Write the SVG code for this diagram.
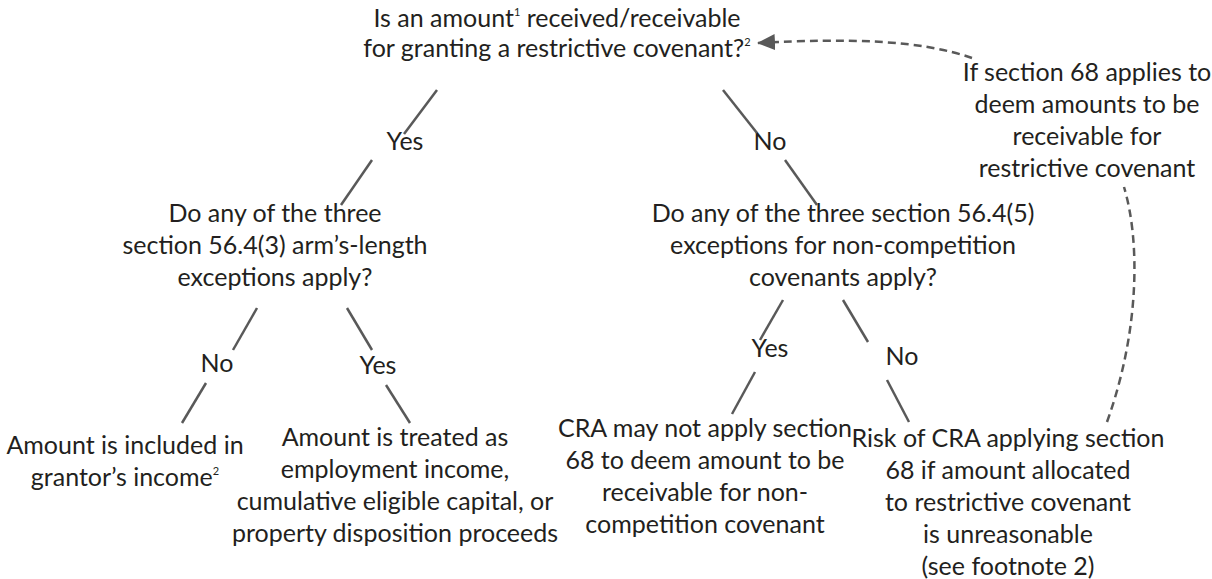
<svg xmlns="http://www.w3.org/2000/svg" width="1212" height="579" viewBox="0 0 1212 579">
<defs>
<style>
text{font-family:"Lato","Liberation Sans",sans-serif;font-size:25px;fill:#231f20;text-anchor:middle}
.sup{font-size:11px}
.ln{stroke:#595959;stroke-width:2.5;fill:none}
.dash{stroke:#595959;stroke-width:2.5;fill:none;stroke-dasharray:8 5}
</style>
<marker id="ah" viewBox="0 0 18 16" refX="17" refY="8" markerWidth="18" markerHeight="16" markerUnits="userSpaceOnUse" orient="auto">
<path d="M0,0 L18,8 L0,16 z" fill="#595959"/>
</marker>
</defs>
<rect width="1212" height="579" fill="#ffffff"/>
<g id="q1">
<text x="557" y="27">Is an amount<tspan class="sup" dy="-11">1</tspan><tspan dy="11"> received/receivable</tspan></text>
<text x="557" y="57">for granting a restrictive covenant?<tspan class="sup" dy="-11">2</tspan></text>
</g>
<g id="note68">
<text x="1087" y="81">If section 68 applies to</text>
<text x="1087" y="113">deem amounts to be</text>
<text x="1087" y="145">receivable for</text>
<text x="1087" y="177">restrictive covenant</text>
</g>
<g id="q2">
<text x="275" y="222">Do any of the three</text>
<text x="275" y="254">section 56.4(3) arm’s-length</text>
<text x="275" y="286">exceptions apply?</text>
</g>
<g id="q3">
<text x="843" y="222">Do any of the three section 56.4(5)</text>
<text x="843" y="254">exceptions for non-competition</text>
<text x="843" y="286">covenants apply?</text>
</g>
<g id="r1">
<text x="125" y="454">Amount is included in</text>
<text x="125" y="486">grantor’s income<tspan class="sup" dy="-11">2</tspan></text>
</g>
<g id="r2">
<text x="395" y="446">Amount is treated as</text>
<text x="395" y="478">employment income,</text>
<text x="395" y="510">cumulative eligible capital, or</text>
<text x="395" y="542">property disposition proceeds</text>
</g>
<g id="r3">
<text x="705" y="437">CRA may not apply section</text>
<text x="705" y="469">68 to deem amount to be</text>
<text x="705" y="501">receivable for non-</text>
<text x="705" y="533">competition covenant</text>
</g>
<g id="r4">
<text x="1008" y="447">Risk of CRA applying section</text>
<text x="1008" y="479">68 if amount allocated</text>
<text x="1008" y="511">to restrictive covenant</text>
<text x="1008" y="543">is unreasonable</text>
<text x="1008" y="575">(see footnote 2)</text>
</g>
<g id="labels">
<text x="405" y="150">Yes</text>
<text x="770" y="150">No</text>
<text x="217" y="372">No</text>
<text x="378" y="374">Yes</text>
<text x="770" y="357">Yes</text>
<text x="902" y="365">No</text>
</g>
<g id="connectors">
<line class="ln" x1="437" y1="90" x2="404" y2="134"/>
<line class="ln" x1="372" y1="160" x2="341" y2="205"/>
<line class="ln" x1="723" y1="90" x2="757" y2="133"/>
<line class="ln" x1="785" y1="160" x2="817" y2="205"/>
<line class="ln" x1="257" y1="308" x2="233" y2="350"/>
<line class="ln" x1="206" y1="383" x2="182" y2="423"/>
<line class="ln" x1="347" y1="308" x2="372" y2="350"/>
<line class="ln" x1="386" y1="385" x2="410" y2="423"/>
<line class="ln" x1="783" y1="300" x2="760" y2="340"/>
<line class="ln" x1="755" y1="372" x2="732" y2="414"/>
<line class="ln" x1="843" y1="300" x2="868" y2="342"/>
<line class="ln" x1="887" y1="380" x2="909" y2="422"/>
<path class="dash" d="M1107,422 C1140,330 1140,240 1124,187"/>
<path class="dash" d="M972,58 C920,40 850,38 758,43" marker-end="url(#ah)"/>
</g>
</svg>
